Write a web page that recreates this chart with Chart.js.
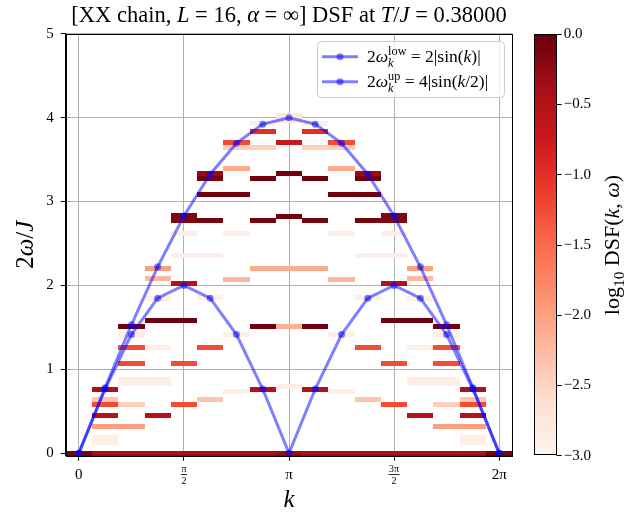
<!DOCTYPE html>
<html>
<head>
<meta charset="utf-8">
<script src="https://cdn.jsdelivr.net/npm/chart.js@4.4.1/dist/chart.umd.min.js"></script>
<style>
  body { margin: 0; background: #fff; }
  #wrap { position: relative; width: 629px; height: 512px; }
  #wrap canvas { position: absolute; left: 0; top: 0; }
</style>
</head>
<body>
<div id="wrap">
  <canvas id="dsf" width="629" height="512"></canvas>
  <canvas id="cbar" width="629" height="512"></canvas>
</div>
<script>
// chain length and momentum sites k_n = 2*pi*n/L
const L = 16;
const kSites = [0, 1, 2, 3, 4, 5, 6, 7, 8, 9, 10, 11, 12, 13, 14, 15, 16];

// single-particle branches at each k_n
const lowBranch = [0, 0.765, 1.414, 1.848, 2.000, 1.848, 1.414, 0.765, 0, 0.765, 1.414, 1.848, 2.000, 1.848, 1.414, 0.765, 0];
const upBranch  = [0, 0.780, 1.531, 2.222, 2.828, 3.326, 3.696, 3.923, 4.000, 3.923, 3.696, 3.326, 2.828, 2.222, 1.531, 0.780, 0];

// DSF histogram: for every k_n the occupied 2w/J bins and their log10 weight
const cellOmega = [
  [0],
  [0, 0.13, 0.19, 0.317, 0.444, 0.576, 0.635, 0.754],
  [0, 0.317, 0.576, 0.83, 0.88, 1.071, 1.258, 1.409, 1.51],
  [0, 0.444, 0.83, 0.88, 1.258, 1.577, 1.84, 2.08, 2.205],
  [0, 0.576, 1.071, 1.577, 2.026, 2.36, 2.62, 2.77, 2.83],
  [0, 0.635, 1.258, 1.853, 2.36, 2.77, 3.083, 3.27, 3.33],
  [0, 0.734, 1.41, 2.075, 2.62, 3.083, 3.39, 3.65, 3.70],
  [0, 0.762, 1.516, 2.20, 2.77, 3.27, 3.65, 3.84, 3.93],
  [0, 0.79, 1.508, 2.20, 2.825, 3.33, 3.70, 3.97, 4.03],
  [0, 0.762, 1.516, 2.20, 2.77, 3.27, 3.65, 3.84, 3.93],
  [0, 0.734, 1.41, 2.075, 2.62, 3.083, 3.39, 3.65, 3.70],
  [0, 0.635, 1.258, 1.853, 2.36, 2.77, 3.083, 3.27, 3.33],
  [0, 0.576, 1.071, 1.577, 2.026, 2.36, 2.62, 2.77, 2.83],
  [0, 0.444, 0.83, 0.88, 1.258, 1.577, 1.84, 2.08, 2.205],
  [0, 0.317, 0.576, 0.83, 0.88, 1.071, 1.258, 1.409, 1.51],
  [0, 0.13, 0.19, 0.317, 0.444, 0.576, 0.635, 0.754],
  [0]
];
const cellLogDSF = [
  [-0.1],
  [-0.45, -2.88, -2.88, -2.0, -0.5, -1.25, -2.35, -0.45],
  [-0.45, -2.0, -2.45, -2.88, -2.88, -1.25, -1.25, -2.88, -0.05],
  [-0.45, -0.5, -2.88, -2.88, -2.88, -0.05, -2.88, -2.25, -2.0],
  [-0.45, -1.25, -1.25, -0.05, -0.5, -2.88, -2.88, -0.15, -0.15],
  [-0.45, -2.35, -1.25, -2.88, -2.88, -0.1, -0.05, -0.05, -0.3],
  [-0.45, -2.88, -2.88, -2.2, -2.88, -0.05, -2.1, -2.45, -1.25],
  [-0.45, -0.5, -0.05, -2.1, -0.1, -0.05, -2.45, -1.0, -2.88],
  [-0.3, -2.88, -2.15, -2.1, -0.05, -0.05, -0.7, -2.75, -2.75],
  [-0.45, -0.5, -0.05, -2.1, -0.1, -0.05, -2.45, -1.0, -2.88],
  [-0.45, -2.88, -2.88, -2.2, -2.88, -0.05, -2.1, -2.45, -1.25],
  [-0.45, -2.35, -1.25, -2.88, -2.88, -0.1, -0.05, -0.05, -0.3],
  [-0.45, -1.25, -1.25, -0.05, -0.5, -2.88, -2.88, -0.15, -0.15],
  [-0.45, -0.5, -2.88, -2.88, -2.88, -0.05, -2.88, -2.25, -2.0],
  [-0.45, -2.0, -2.45, -2.88, -2.88, -1.25, -1.25, -2.88, -0.05],
  [-0.45, -2.88, -2.88, -2.0, -0.5, -1.25, -2.35, -0.45],
  [-0.1]
];

const xTickVals = [0, Math.PI / 2, Math.PI, 3 * Math.PI / 2, 2 * Math.PI];
const xTickText = [['0'], ['π', '2'], ['π'], ['3π', '2'], ['2π']];
const yTickVals = [0, 1, 2, 3, 4, 5];
const cbarTickVals = [-3, -2.5, -2, -1.5, -1, -0.5, 0];

const BIN = 0.06;            // height of one 2w/J bin
const LOG_MIN = -3, LOG_MAX = 0;
const BLUE = 'rgba(0, 0, 255, 0.5)';
const SERIF = '"Liberation Serif", "DejaVu Serif", serif';

// matplotlib "Reds"
const REDS = ['#fff5f0', '#fee0d2', '#fcbba1', '#fc9272', '#fb6a4a', '#ef3b2c', '#cb181d', '#a50f15', '#67000d'];

function hexRgb(h) {
    return [1, 3, 5].map(i => parseInt(h.slice(i, i + 2), 16));
}

function redsColor(v) {
    let t = (v - LOG_MIN) / (LOG_MAX - LOG_MIN);
    t = Math.min(1, Math.max(0, t));
    const pos = t * (REDS.length - 1);
    const i = Math.min(REDS.length - 2, Math.floor(pos));
    const f = pos - i;
    const a = hexRgb(REDS[i]), b = hexRgb(REDS[i + 1]);
    const c = a.map((c0, j) => Math.round(c0 + (b[j] - c0) * f));
    return `rgb(${c[0]}, ${c[1]}, ${c[2]})`;
}

function fontOf(size, italic) {
    return (italic ? 'italic ' : '') + size + 'px ' + SERIF;
}

// text runs with italics, sub- and superscripts
function layoutRuns(ctx, runs, size) {
    let x = 0, held = 0;
    const placed = [];
    runs.forEach(r => {
        const s = size * (r.k || 1);
        ctx.font = fontOf(s, r.it);
        const w = ctx.measureText(r.t).width;
        placed.push({ r, s, x });
        if (r.hold) {
            held = Math.max(held, w);
        } else {
            x += Math.max(w, held);
            held = 0;
        }
    });
    return { placed, width: x };
}

function drawRich(ctx, runs, x, y, size, align) {
    const { placed, width } = layoutRuns(ctx, runs, size);
    const x0 = align === 'center' ? x - width / 2 : align === 'right' ? x - width : x;
    ctx.save();
    ctx.fillStyle = '#000';
    ctx.textAlign = 'left';
    ctx.textBaseline = 'alphabetic';
    placed.forEach(p => {
        ctx.font = fontOf(p.s, p.r.it);
        ctx.fillText(p.r.t, x0 + p.x, y + (p.r.dy || 0) * size);
    });
    ctx.restore();
}

const titleRuns = [
    { t: '[XX chain, ' }, { t: 'L', it: true }, { t: ' = 16, ' }, { t: 'α', it: true },
    { t: ' = ∞] DSF at ' }, { t: 'T', it: true }, { t: '/' }, { t: 'J', it: true }, { t: ' = 0.38000' }
];
const yLabelRuns = [{ t: '2' }, { t: 'ω', it: true }, { t: '/' }, { t: 'J', it: true }];
const cbarLabelRuns = [
    { t: 'log' }, { t: '10', k: 0.7, dy: 0.22 }, { t: ' DSF(' }, { t: 'k', it: true },
    { t: ', ' }, { t: 'ω', it: true }, { t: ')' }
];
const legendRuns = [
    [{ t: '2' }, { t: 'ω', it: true }, { t: 'low', k: 0.7, dy: -0.38, hold: true },
     { t: 'k', it: true, k: 0.7, dy: 0.28 }, { t: ' = 2|sin(' }, { t: 'k', it: true }, { t: ')|' }],
    [{ t: '2' }, { t: 'ω', it: true }, { t: 'up', k: 0.7, dy: -0.38, hold: true },
     { t: 'k', it: true, k: 0.7, dy: 0.28 }, { t: ' = 4|sin(' }, { t: 'k', it: true }, { t: '/2)|' }]
];

// heat-map cells, one rectangle per (k_n, bin)
const cellPlugin = {
    id: 'dsfCells',
    beforeDatasetsDraw(chart) {
        const { ctx, chartArea: a, scales: { x, y } } = chart;
        const half = Math.PI / L;
        ctx.save();
        ctx.beginPath();
        ctx.rect(a.left, a.top, a.right - a.left, a.bottom - a.top);
        ctx.clip();
        kSites.forEach(n => {
            const k = 2 * Math.PI * n / L;
            const x0 = Math.round(x.getPixelForValue(k - half));
            const x1 = Math.round(x.getPixelForValue(k + half));
            cellOmega[n].forEach((w, j) => {
                const y0 = Math.round(y.getPixelForValue(w + BIN / 2));
                const y1 = Math.round(y.getPixelForValue(w - BIN / 2));
                ctx.fillStyle = redsColor(cellLogDSF[n][j]);
                ctx.fillRect(x0, y0, x1 - x0, y1 - y0);
            });
        });
        ctx.restore();
    }
};

// legend, frame, pi tick labels, axis labels and title
const decorPlugin = {
    id: 'decor',
    afterDatasetsDraw(chart) {
        const ctx = chart.ctx;
        const box = { l: 317.5, t: 41.5, r: 504.5, b: 97.5 };
        ctx.save();
        ctx.beginPath();
        ctx.roundRect(box.l, box.t, box.r - box.l, box.b - box.t, 4);
        ctx.fillStyle = 'rgba(255, 255, 255, 0.8)';
        ctx.fill();
        ctx.strokeStyle = '#cccccc';
        ctx.lineWidth = 1;
        ctx.stroke();
        [56.7, 81.7].forEach((yy, i) => {
            ctx.strokeStyle = BLUE;
            ctx.lineWidth = 3;
            ctx.beginPath();
            ctx.moveTo(322, yy);
            ctx.lineTo(358, yy);
            ctx.stroke();
            ctx.fillStyle = BLUE;
            ctx.beginPath();
            ctx.arc(340, yy, 3.5, 0, 2 * Math.PI);
            ctx.fill();
            drawRich(ctx, legendRuns[i], 367, yy + 5, 17.5, 'left');
        });
        ctx.restore();
    },
    afterDraw(chart) {
        const { ctx, chartArea: a, scales: { x } } = chart;
        ctx.save();
        ctx.strokeStyle = '#000';
        ctx.lineWidth = 1;
        ctx.strokeRect(Math.round(a.left) + 0.5, Math.round(a.top) + 0.5,
            Math.round(a.right - a.left) - 1, Math.round(a.bottom - a.top));

        ctx.fillStyle = '#000';
        ctx.textAlign = 'center';
        xTickVals.forEach((v, i) => {
            const px = x.getPixelForValue(v);
            const txt = xTickText[i];
            if (txt.length === 1) {
                ctx.font = fontOf(15, false);
                ctx.fillText(txt[0], px, 478.5);
            } else {
                ctx.font = fontOf(10, false);
                const w = ctx.measureText(txt[0]).width + 1;
                ctx.fillText(txt[0], px, 471.5);
                ctx.fillRect(px - w / 2, 474, w, 0.8);
                ctx.fillText(txt[1], px, 484);
            }
        });
        ctx.restore();

        const cx = (a.left + a.right) / 2;
        drawRich(ctx, [{ t: 'k', it: true }], cx, 507, 25, 'center');
        drawRich(ctx, titleRuns, cx, 22, 22.5, 'center');

        ctx.save();
        ctx.translate(33, (a.top + a.bottom) / 2);
        ctx.rotate(-Math.PI / 2);
        drawRich(ctx, yLabelRuns, 0, 0, 25, 'center');
        ctx.restore();
    }
};

function branchPoints(vals) {
    return kSites.map((n, i) => ({ x: 2 * Math.PI * n / L, y: vals[i] }));
}

const branchStyle = {
    showLine: true,
    borderColor: BLUE,
    backgroundColor: BLUE,
    borderWidth: 3,
    pointRadius: 3.5,
    pointBorderWidth: 0
};

new Chart(document.getElementById('dsf'), {
    type: 'scatter',
    data: {
        datasets: [
            { label: 'low', data: branchPoints(lowBranch), ...branchStyle },
            { label: 'up', data: branchPoints(upBranch), ...branchStyle }
        ]
    },
    options: {
        responsive: false,
        animation: false,
        devicePixelRatio: 1,
        layout: { padding: { left: 0, right: 116.7, top: 33.8, bottom: 0 } },
        plugins: { legend: { display: false }, tooltip: { enabled: false }, title: { display: false } },
        scales: {
            x: {
                type: 'linear',
                min: -Math.PI / L,
                max: 2 * Math.PI + Math.PI / L,
                afterBuildTicks: s => { s.ticks = xTickVals.map(v => ({ value: v })); },
                ticks: { display: false },
                grid: { color: '#b0b0b0', lineWidth: 1, tickLength: 5, tickColor: '#000' },
                border: { color: '#000', width: 1 },
                afterFit: s => { s.height = 56.3; }
            },
            y: {
                type: 'linear',
                min: -0.03,
                max: 5,
                afterBuildTicks: s => { s.ticks = yTickVals.map(v => ({ value: v })); },
                ticks: {
                    font: { family: SERIF, size: 15 },
                    color: '#000',
                    padding: 7,
                    callback: v => String(v)
                },
                grid: { color: '#b0b0b0', lineWidth: 1, tickLength: 5, tickColor: '#000' },
                border: { color: '#000', width: 1 },
                afterFit: s => { s.width = 65.7; }
            }
        }
    },
    plugins: [cellPlugin, decorPlugin]
});

// colour bar
const cbarPlugin = {
    id: 'cbarFill',
    beforeDatasetsDraw(chart) {
        const { ctx, chartArea: a } = chart;
        const g = ctx.createLinearGradient(0, a.bottom, 0, a.top);
        REDS.forEach((c, i) => g.addColorStop(i / (REDS.length - 1), c));
        ctx.save();
        ctx.fillStyle = g;
        ctx.fillRect(a.left, a.top, a.right - a.left, a.bottom - a.top);
        ctx.strokeStyle = '#000';
        ctx.lineWidth = 1;
        ctx.strokeRect(Math.round(a.left) + 0.5, Math.round(a.top) + 0.5,
            Math.round(a.right - a.left) - 1, Math.round(a.bottom - a.top) - 1);
        ctx.restore();
    },
    afterDraw(chart) {
        const { ctx, chartArea: a } = chart;
        ctx.save();
        ctx.translate(619, (a.top + a.bottom) / 2);
        ctx.rotate(-Math.PI / 2);
        drawRich(ctx, cbarLabelRuns, 0, 0, 22, 'center');
        ctx.restore();
    }
};

new Chart(document.getElementById('cbar'), {
    type: 'bar',
    data: { labels: [''], datasets: [] },
    options: {
        responsive: false,
        animation: false,
        devicePixelRatio: 1,
        layout: { padding: { left: 534, right: 0, top: 34.3, bottom: 56.3 } },
        plugins: { legend: { display: false }, tooltip: { enabled: false } },
        scales: {
            x: { display: false },
            y: {
                position: 'right',
                min: LOG_MIN,
                max: LOG_MAX,
                afterBuildTicks: s => { s.ticks = cbarTickVals.map(v => ({ value: v })); },
                ticks: {
                    font: { family: SERIF, size: 15 },
                    color: '#000',
                    padding: 2,
                    callback: v => (v < 0 ? '\u2212' : '') + Math.abs(v).toFixed(1)
                },
                grid: { drawOnChartArea: false, tickLength: 5, tickColor: '#000' },
                border: { color: '#000', width: 1 },
                afterFit: s => { s.width = 629 - 556.7; }
            }
        }
    },
    plugins: [cbarPlugin]
});
</script>
</body>
</html>
